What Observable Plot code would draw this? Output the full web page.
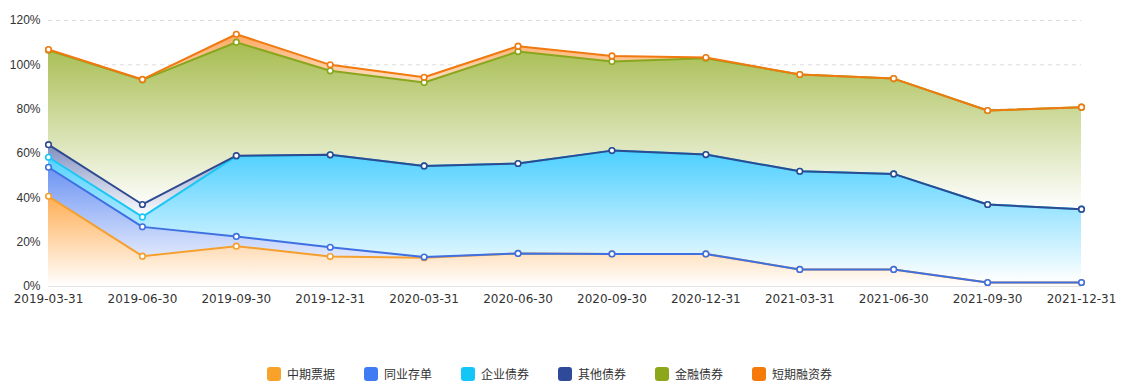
<!DOCTYPE html>
<html><head><meta charset="utf-8">
<script src="https://cdn.jsdelivr.net/npm/d3@7"></script>
<script src="https://cdn.jsdelivr.net/npm/@observablehq/plot@0.6"></script>
<style>
body{margin:0;background:#fff;font-family:"Noto Sans CJK SC",sans-serif;}
#legend{display:flex;justify-content:flex-start;padding-left:267px;gap:29px;margin-top:56px;font-size:12px;color:#333;line-height:16px;}
.item{display:flex;align-items:center;gap:6px;}
.sw{width:14px;height:14px;border-radius:3px;display:inline-block;}
</style></head><body>
<div id="chart"></div>
<div id="legend"></div>
<script>
const dates = ["2019-03-31","2019-06-30","2019-09-30","2019-12-31","2020-03-31","2020-06-30","2020-09-30","2020-12-31","2021-03-31","2021-06-30","2021-09-30","2021-12-31"];
const seriesNames = ["中期票据","同业存单","企业债券","其他债券","金融债券","短期融资券"];
const midTermNotes   = [40.7, 13.7, 18.2, 13.5, 13.0, 14.9, 14.7, 14.7, 7.7, 7.7, 1.8, 1.8];
const interbankCDs   = [13.1, 13.2, 4.4, 4.2, 0.3, 0, 0, 0, 0, 0, 0, 0];
const corporateBonds = [4.5, 4.5, 36.2, 41.7, 41.1, 40.6, 46.6, 44.8, 44.3, 43.1, 35.2, 33.1];
const otherBonds     = [5.7, 5.6, 0.2, 0, 0, 0, 0, 0, 0, 0, 0, 0];
const financialBonds = [42.6, 56.2, 51.2, 37.9, 37.6, 50.5, 40.2, 43.5, 43.6, 43.0, 42.4, 46.0];
const shortTermBills = [0.3, 0.2, 3.6, 2.7, 2.4, 2.4, 2.5, 0.3, 0, 0, 0, 0];
const yTicks = [0, 20, 40, 60, 80, 100, 120];

const seriesValues = [midTermNotes, interbankCDs, corporateBonds, otherBonds, financialBonds, shortTermBills];
const lineColors = ["#F5A02E", "#3E70E2", "#1CC6F4", "#2E4A90", "#8AA61C", "#F07A10"];
const legendColors = ["#F9A22A", "#3F7BF2", "#14C6F8", "#2E4A98", "#8CA81A", "#F57A0A"];
const gradTop = ["#FFAE55", "#6C93F3", "#4CCFFF", "#7E8DC0", "#A6BC4E", "#FDA860"];

// stacked table
const rows = [];
const cum = dates.map(() => 0);
seriesNames.forEach((s, i) => {
  dates.forEach((d, j) => {
    const y1 = cum[j];
    const y2 = y1 + seriesValues[i][j];
    cum[j] = y2;
    rows.push({date: d, series: s, idx: i, y1, y2});
  });
});

const marks = [
  Plot.gridY(yTicks.filter(t => t > 0), {stroke: "#dcdcdc", strokeOpacity: 1, strokeDasharray: "4,4"}),
  Plot.ruleY([0], {stroke: "#e4e4e4"})
];
seriesNames.forEach((s, i) => {
  marks.push(Plot.areaY(rows.filter(r => r.idx === i), {x: "date", y1: "y1", y2: "y2", fill: `url(#grad${i})`, curve: "linear"}));
});
seriesNames.forEach((s, i) => {
  const data = rows.filter(r => r.idx === i);
  marks.push(Plot.lineY(data, {x: "date", y: "y2", stroke: lineColors[i], strokeWidth: 2}));
  marks.push(Plot.dot(data, {x: "date", y: "y2", r: 2.8, fill: "#fff", stroke: lineColors[i], strokeWidth: 1.6}));
});
marks.push(Plot.axisY({ticks: yTicks, tickFormat: d => d + "%", tickSize: 0, tickPadding: 8, fontSize: 12}));
marks.push(Plot.axisX({tickSize: 0, tickPadding: 8, fontSize: 12, fontFamily: "'DejaVu Sans', sans-serif"}));

const plot = Plot.plot({
  width: 1124,
  height: 310,
  marginTop: 20,
  marginBottom: 24,
  marginLeft: 48,
  marginRight: 43,
  style: {fontFamily: "'Liberation Sans', 'Noto Sans CJK SC', sans-serif", fontSize: "12px", color: "#333", background: "#fff"},
  x: {type: "point", domain: dates, padding: 0, round: false, label: null},
  y: {domain: [0, 120], label: null},
  marks
});

const svg = d3.select(plot);
const defs = svg.insert("defs", ":first-child");
gradTop.forEach((c, i) => {
  const g = defs.append("linearGradient").attr("id", `grad${i}`).attr("x1", 0).attr("y1", 0).attr("x2", 0).attr("y2", 1);
  g.append("stop").attr("offset", "0%").attr("stop-color", c).attr("stop-opacity", 1);
  g.append("stop").attr("offset", "100%").attr("stop-color", "#ffffff").attr("stop-opacity", 1);
});
document.getElementById("chart").appendChild(plot);

const legend = document.getElementById("legend");
seriesNames.forEach((s, i) => {
  const it = document.createElement("div");
  it.className = "item";
  it.innerHTML = `<span class="sw" style="background:${legendColors[i]}"></span><span>${s}</span>`;
  legend.appendChild(it);
});
</script>
</body></html>
